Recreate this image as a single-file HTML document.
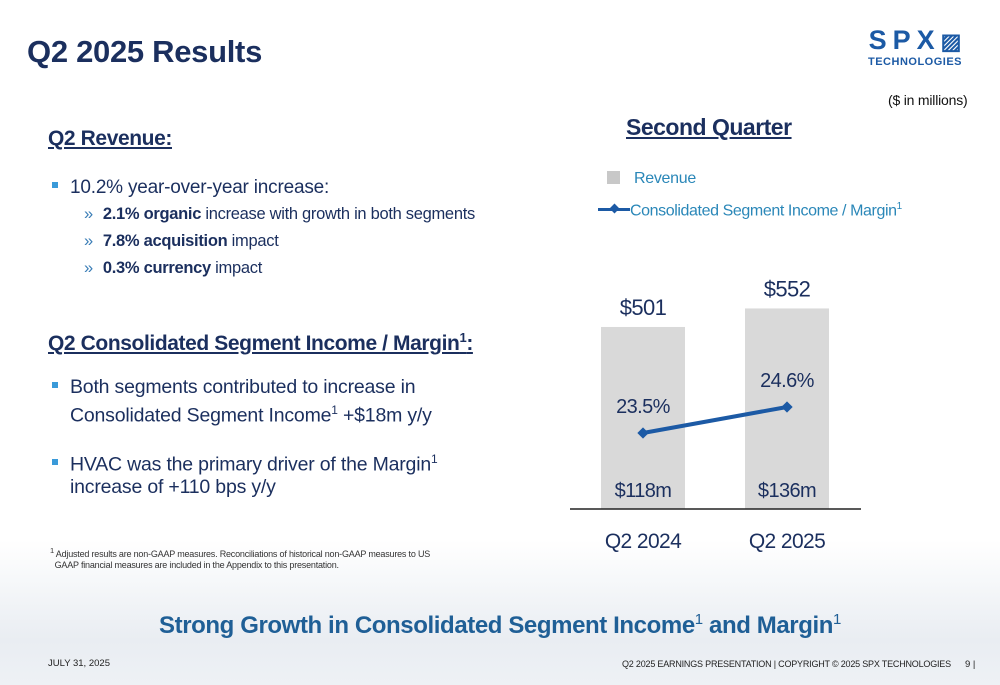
<!DOCTYPE html>
<html><head><meta charset="utf-8"><style>
body{margin:0;width:1000px;height:685px;overflow:hidden;font-family:"Liberation Sans",Arial,sans-serif;position:relative;background:linear-gradient(#fff 0,#fff 540px,#e9edf2 640px,#eef1f5 685px);}
.a{position:absolute;white-space:nowrap}
.navy{color:#1b2f5e}
.sq{display:inline-block;width:6px;height:6px;background:#3a9ad9;margin-right:12px;vertical-align:middle;position:relative;top:-3px}
.ch{color:#3a7db6;margin:0 10px 0 32px}
</style></head><body>
<div class="a navy" style="left:27px;top:34px;font-size:31px;font-weight:bold;letter-spacing:-0.3px">Q2 2025 Results</div>
<div class="a" style="left:868px;top:26px;color:#1c5aa5;font-weight:bold;text-align:center">
<div style="font-size:27px;letter-spacing:6px;line-height:28px">SPX<span style="font-size:22px;letter-spacing:0">▨</span></div>
<div style="font-size:11px;letter-spacing:0.5px">TECHNOLOGIES</div></div>
<div class="a" style="left:888px;top:92px;font-size:14px;color:#111;letter-spacing:-0.2px">($ in millions)</div>

<div class="a navy" style="left:48px;top:127px;font-size:21px;font-weight:bold;text-decoration:underline;letter-spacing:-0.4px">Q2 Revenue:</div>
<div class="a" style="left:52px;top:174px;font-size:19px;color:#1b2f5e;line-height:27px;letter-spacing:-0.2px">
<div><span class="sq"></span>10.2% year-over-year increase:</div>
<div style="font-size:16.5px;letter-spacing:-0.3px"><span class="ch">»</span><b>2.1% organic</b> increase with growth in both segments</div>
<div style="font-size:16.5px;letter-spacing:-0.3px"><span class="ch">»</span><b>7.8% acquisition</b> impact</div>
<div style="font-size:16.5px;letter-spacing:-0.3px"><span class="ch">»</span><b>0.3% currency</b> impact</div></div>

<div class="a navy" style="left:48px;top:330px;font-size:21px;font-weight:bold;text-decoration:underline;letter-spacing:-0.4px">Q2 Consolidated Segment Income / Margin<sup style="font-size:13px">1</sup>:</div>
<div class="a" style="left:52px;top:376px;font-size:19.5px;color:#1b2f5e;line-height:23px;letter-spacing:-0.2px">
<div><span class="sq"></span>Both segments contributed to increase in</div>
<div style="padding-left:18px">Consolidated Segment Income<sup style="font-size:12px">1</sup> +$18m y/y</div>
<div style="margin-top:20px"><span class="sq"></span>HVAC was the primary driver of the Margin<sup style="font-size:12px">1</sup></div>
<div style="padding-left:18px">increase of +110 bps y/y</div></div>

<div class="a" style="left:50px;top:545px;font-size:9px;color:#333;line-height:11px;letter-spacing:-0.2px"><sup>1</sup> Adjusted results are non-GAAP measures. Reconciliations of historical non-GAAP measures to US<br>&nbsp;&nbsp;GAAP financial measures are included in the Appendix to this presentation.</div>

<div class="a navy" style="left:626px;top:114px;font-size:23px;font-weight:bold;text-decoration:underline;letter-spacing:-0.5px">Second Quarter</div>
<div class="a" style="left:607px;top:170px;font-size:16px;color:#2a87b8;letter-spacing:-0.3px"><span style="display:inline-block;width:13px;height:13px;background:#c8c8c8;margin-right:14px;vertical-align:-1px"></span>Revenue</div>
<div class="a" style="left:598px;top:201px;font-size:16px;color:#2a87b8;letter-spacing:-0.4px"><span style="display:inline-block;width:32px;height:3px;background:#1c5aa5;vertical-align:4px;position:relative"><span style="position:absolute;left:13px;top:-3px;width:7px;height:7px;background:#1c5aa5;transform:rotate(45deg)"></span></span>Consolidated Segment Income / Margin<sup style="font-size:10px">1</sup></div>

<svg class="a" style="left:0;top:0" width="1000" height="685">
<g id="g"></g></svg>
<script>
const categories=["Q2 2024","Q2 2025"];
const revenue=[501,552];
const revenueLabels=["$501","$552"];
const margin=[23.5,24.6];
const marginLabels=["23.5%","24.6%"];
const incomeLabels=["$118m","$136m"];
const NS="http://www.w3.org/2000/svg",g=document.getElementById('g');
const base=509,xC=i=>643+i*144,yR=v=>base-v*0.3633,yM=v=>433-(v-23.5)*23.64;
function mk(t,a){const e=document.createElementNS(NS,t);for(const k in a)e.setAttribute(k,a[k]);g.appendChild(e);return e;}
function tx(s,x,y,sz,nm){const e=mk('text',{x:x,y:y,'text-anchor':'middle','font-size':sz,'letter-spacing':-0.6,fill:'#1b2f5e','font-family':'Liberation Sans, Arial, sans-serif'});e.textContent=s;

return e;}
categories.forEach((c,i)=>{
const b=mk('rect',{x:xC(i)-42,y:yR(revenue[i]),width:84,height:base-yR(revenue[i]),fill:'#d9d9d9'});


tx(revenueLabels[i],xC(i),yR(revenue[i])-12,22,'revenue-label-'+i);
tx(incomeLabels[i],xC(i),497,20,'income-label-'+i);
tx(marginLabels[i],xC(i),yM(margin[i])-20,20,'margin-label-'+i);
tx(c,xC(i),548,21,'x-label-'+i);
});
const ln=mk('polyline',{points:margin.map((v,i)=>xC(i)+','+yM(v)).join(' '),fill:'none',stroke:'#1c5aa5','stroke-width':4});


margin.forEach((v,i)=>{const p=mk('rect',{x:xC(i)-4,y:yM(v)-4,width:8,height:8,fill:'#1c5aa5',transform:`rotate(45 ${xC(i)} ${yM(v)})`});

});
const ax=mk('line',{x1:570,x2:861,y1:base,y2:base,stroke:'#222','stroke-width':1.5});


</script>

<div class="a" style="left:0;width:1000px;text-align:center;top:611px;font-size:24px;font-weight:bold;color:#1f5f96;letter-spacing:-0.4px">Strong Growth in Consolidated Segment Income<sup style="font-size:15px;font-weight:normal">1</sup> and Margin<sup style="font-size:15px;font-weight:normal">1</sup></div>
<div class="a" style="left:48px;top:658px;font-size:9.5px;color:#222">JULY 31, 2025</div>
<div class="a" style="left:622px;top:659px;font-size:9px;color:#222;letter-spacing:-0.2px">Q2 2025 EARNINGS PRESENTATION | COPYRIGHT © 2025 SPX TECHNOLOGIES</div>
<div class="a" style="left:965px;top:659px;font-size:9.5px;color:#222">9 |</div>
</body></html>
